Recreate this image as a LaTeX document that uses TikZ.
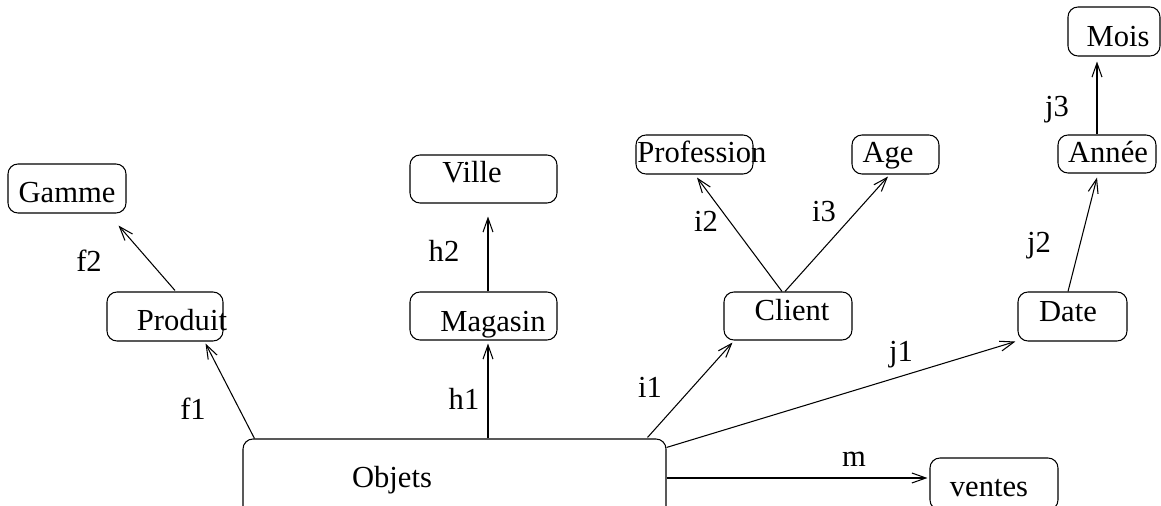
\documentclass[tikz,border=0pt]{standalone}
\usepackage{fontspec}
\setmainfont{Liberation Serif}
\usetikzlibrary{arrows.meta,calc}

\begin{document}
\begin{tikzpicture}[x=0.02cm, y=-0.02cm,
    boite/.style 2 args={draw, rounded corners=0.2cm, line width=0.6pt, inner sep=0pt,
        minimum width=#1*0.02cm, minimum height=#2*0.02cm},
    texte/.style={anchor=base, inner sep=0pt, font=\fontsize{17.4}{20}\selectfont},
    fleche/.style={line width=0.6pt, -{Straight Barb[length=0.28cm, width=0.2cm, line width=0.6pt]}}]
    \clip (0,0) rectangle (1161,506);

    % Draw nodes
    \node[boite={118}{49}] (Gamme) at (67,188.5) {};
    \node[boite={116}{49}] (Produit) at (165,316.5) {};
    \node[boite={147}{48}] (Ville) at (483.5,179) {};
    \node[boite={147}{48}] (Magasin) at (483.5,316) {};
    \node[boite={117}{39}] (Profession) at (694.5,154.5) {};
    \node[boite={87}{39}] (Age) at (895.5,154.5) {};
    \node[boite={128}{48}] (Client) at (788,316) {};
    \node[boite={92}{49}] (Mois) at (1114,31.5) {};
    \node[boite={98}{38}] (Annee) at (1107,154) {};
    \node[boite={109}{49}] (Date) at (1072.5,316.5) {};
    \node[boite={423}{96}] (Objets) at (454.5,487) {};
    \node[boite={128}{52}] (ventes) at (994,484) {};

    % Texts in the boxes
    \node[texte] (tGamme) at (67,203) {Gamme};
    \node[texte] (tProduit) at (182,331) {Produit};
    \node[texte] (tVille) at (472,183) {Ville};
    \node[texte] (tMagasin) at (493,332) {Magasin};
    \node[texte] (tProfession) at (702,163) {Profession};
    \node[texte] (tAge) at (888,163) {Age};
    \node[texte] (tClient) at (792,321) {Client};
    \node[texte] (tMois) at (1118,47) {Mois};
    \node[texte] (tAnnee) at (1108,163) {Année};
    \node[texte] (tDate) at (1068,322) {Date};
    \node[texte] (tObjets) at (392,488) {Objets};
    \node[texte] (tventes) at (989,497) {ventes};

    % Draw connections
    \draw[fleche] ($(Objets.north west)+(12,0)$) -- ($(Produit.south east)+(-18,2)$);
    \draw[fleche] ($(Produit.north)+(10,-1)$) -- ($(Gamme.south east)+(-8,12)$);
    \draw[fleche] ($(Objets.north)+(33.5,0)$) -- ($(Magasin.south)+(4.5,3)$);
    \draw[fleche] ($(Magasin.north)+(4.5,0)$) -- ($(Ville.south)+(4.5,13)$);
    \draw[fleche] ($(Objets.north east)+(-19,-1)$) -- ($(Client.south west)+(9,2)$);
    \draw[fleche] ($(Client.north)+(-6,0)$) -- ($(Profession.south)+(2.5,3)$);
    \draw[fleche] ($(Client.north)+(-3,0)$) -- ($(Age.south)+(-7.5,2)$);
    \draw[fleche] ($(Objets.north east)+(0,9)$) -- ($(Date.south west)+(-2,0)$);
    \draw[fleche] ($(Date.north)+(-4.5,0)$) -- ($(Annee.south)+(-10,4)$);
    \draw[fleche] ($(Annee.north)+(-10,0)$) -- ($(Mois.south)+(-17,5)$);
    \draw[fleche] ($(Objets.east)+(0,-9)$) -- ($(ventes.west)+(-2,-6)$);

    % Labels
    \node[texte] (lf1) at (193,420) {f1};
    \node[texte] (lf2) at (89,272) {f2};
    \node[texte] (lh1) at (464,410) {h1};
    \node[texte] (lh2) at (444,262) {h2};
    \node[texte] (li1) at (650,398) {i1};
    \node[texte] (li2) at (706,232) {i2};
    \node[texte] (li3) at (824,222) {i3};
    \node[texte] (lj1) at (901,362) {j1};
    \node[texte] (lj2) at (1039,253) {j2};
    \node[texte] (lj3) at (1057,117) {j3};
    \node[texte] (lm) at (854,467) {m};
\end{tikzpicture}
\end{document}
